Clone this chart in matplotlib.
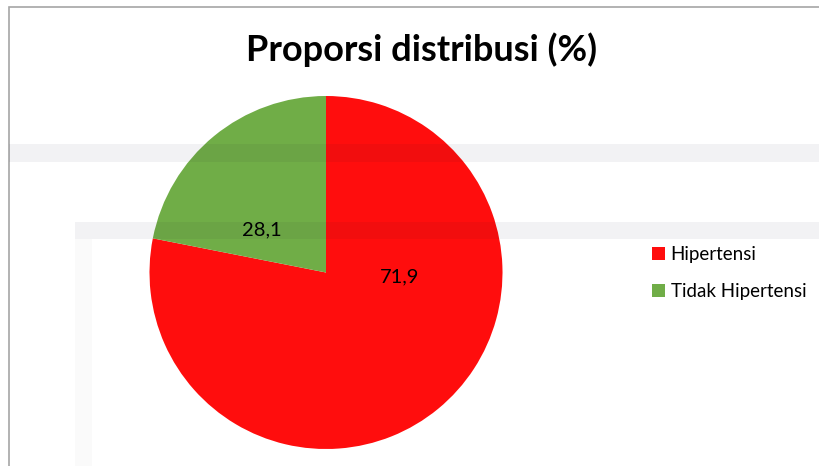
import matplotlib.pyplot as plt
from matplotlib.patches import Rectangle, Patch

# data (the wedges as drawn in the chart; the labels as printed on it)
labels = ['Hipertensi', 'Tidak Hipertensi']
wedge_values = [78.1, 21.9]
value_text = ['71,9', '28,1']
colors = ['#FF0D0D', '#70AD47']

W, H = 819, 466
fig = plt.figure(figsize=(W / 100, H / 100), dpi=100)
fig.patch.set_facecolor('white')
plt.rcParams['font.family'] = ['Lato', 'DejaVu Sans']

def px_rect(x0, y0, x1, y1, **kw):
    # rectangle given in pixel coords, y measured from the top
    return Rectangle((x0 / W, 1 - y1 / H), (x1 - x0) / W, (y1 - y0) / H,
                     transform=fig.transFigure, **kw)

# chart area border (runs off the right and bottom edges)
fig.patches.append(px_rect(9, 7, 840, 490, fill=False, edgecolor='#A6A6A6', linewidth=1.2))

# pie axes: center (326, 272.5), radius 176.5 px
r = 176.5
ax = fig.add_axes([(326 - r) / W, (H - 272.5 - r) / H, 2 * r / W, 2 * r / H])
ax.patch.set_visible(False)
wedges, _ = ax.pie(wedge_values, colors=colors, startangle=90, counterclock=False,
                   radius=1.0)
ax.set_xlim(-1, 1)
ax.set_ylim(-1, 1)
ax.set_aspect('equal')
ax.axis('off')

# data labels where the chart puts them
label_pos = [(0.414, -0.025), (-0.363, 0.241)]
for (x, y), t in zip(label_pos, value_text):
    ax.text(x, y, t, ha='center', va='center', fontsize=14.5, color='black')

fig.text(421.5 / W, 1 - 50 / H, 'Proporsi distribusi (%)', ha='center', va='center',
         fontsize=26, fontweight='bold')

handles = [Patch(facecolor=c, edgecolor='none') for c in colors]
fig.legend(handles, labels, loc='center left', bbox_to_anchor=(635 / W, 1 - 273 / H),
           frameon=False, fontsize=13.5, handlelength=0.7, handleheight=0.7,
           handletextpad=0.3, labelspacing=1.1)

# faint watermark bands from the page, lying over everything
for (x0, y0, x1, y1), a in [((9, 144, 830, 162), 0.05), ((75, 222, 830, 239), 0.05),
                            ((75, 239, 92, 470), 0.02)]:
    fig.patches.append(px_rect(x0, y0, x1, y1, facecolor='#101030', alpha=a,
                               edgecolor='none', zorder=10))

fig.savefig('out.png', dpi=100)
